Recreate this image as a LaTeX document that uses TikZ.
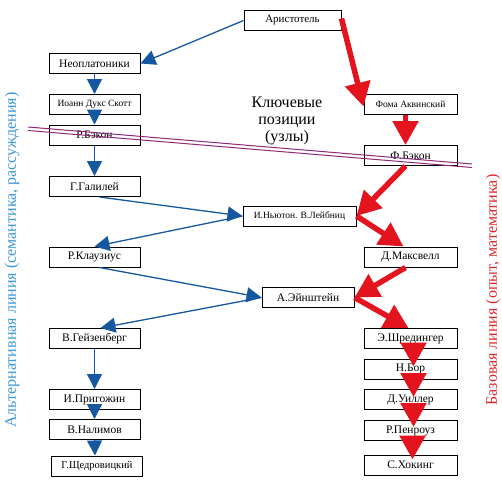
\documentclass[tikz,border=0pt]{standalone}
\usepackage{fontspec}
\setmainfont{Liberation Serif}
\usetikzlibrary{arrows.meta}
\definecolor{bl}{RGB}{22,88,160}
\definecolor{rd}{RGB}{228,20,30}
\definecolor{sideblue}{RGB}{60,150,210}
\definecolor{sidered}{RGB}{220,40,40}
\definecolor{purp}{RGB}{140,40,120}
\begin{document}
\begin{tikzpicture}[x=1pt,y=-1pt,
 box/.style={draw,line width=1pt,minimum height=20pt,inner sep=0pt,font=\rmfamily\fontsize{11.5}{12}\selectfont},
 lbox/.style={box,minimum width=91pt},
 rbox/.style={box,minimum width=93pt},
 small/.style={font=\rmfamily\fontsize{9.5}{10}\selectfont},
 barrow/.style={draw=bl,line width=1.3pt,-{Triangle[length=15pt,width=15pt]}},
 rarrow/.style={draw=rd,line width=5.5pt,-{Triangle[length=24pt,width=25pt]}},
 sidetext/.style={rotate=90,font=\rmfamily\fontsize{16}{18}\selectfont},
]
\useasboundingbox (0,0) rectangle (502,483);

% left column
\node[lbox] (neo) at (94.5,63.5) {Неоплатоники};
\node[lbox,small] (ioann) at (94.5,104.5) {Иоанн Дукс Скотт};
\node[lbox] (rbacon) at (94.5,135) {Р.Бэкон};
\node[lbox] (galilei) at (94.5,186.5) {Г.Галилей};
\node[lbox] (klaus) at (94.5,257) {Р.Клаузиус};
\node[lbox] (heis) at (94.5,338.5) {В.Гейзенберг};
\node[lbox] (prig) at (94.5,399.5) {И.Пригожин};
\node[lbox] (nalim) at (94.5,429.5) {В.Налимов};
\node[lbox,font=\rmfamily\fontsize{10.5}{11}\selectfont] (shched) at (97,466) {Г.Щедровицкий};

% right column
\node[box,minimum width=97pt,font=\rmfamily\fontsize{11}{12}\selectfont] (arist) at (292.5,20.5) {Аристотель};
\node[rbox,small] (foma) at (410.5,104.5) {Фома Аквинский};
\node[rbox] (fbacon) at (410.5,155.5) {Ф.Бэкон};
\node[box,small,minimum width=113pt] (newton) at (299.5,216) {И.Ньютон. В.Лейбниц};
\node[rbox] (maxw) at (410.5,257) {Д.Максвелл};
\node[box,minimum width=92pt] (einst) at (308,297.5) {А.Эйнштейн};
\node[rbox] (schr) at (410.5,338.5) {Э.Шредингер};
\node[rbox] (bohr) at (410.5,369) {Н.Бор};
\node[rbox] (wheeler) at (410.5,399.5) {Д.Уиллер};
\node[rbox] (penrose) at (410.5,430.5) {Р.Пенроуз};
\node[rbox] (hawking) at (410.5,465) {С.Хокинг};

% key positions label
\node[align=center,font=\rmfamily\fontsize{16}{17}\selectfont] (key) at (287,121) {Ключевые\\позиции\\(узлы)};

% side texts
\node[sidetext,text=sideblue] (alt) at (12,260) {Альтернативная линия (семантика, рассуждения)};
\node[sidetext,text=sidered] (base) at (493,290) {Базовая линия (опыт, математика)};

% blue arrows
\draw[barrow] (arist.west) -- (neo.east);
\draw[barrow] (neo.south) -- (ioann.north);
\draw[barrow] (ioann.south) -- (rbacon.north);
\draw[barrow] (rbacon.south) -- (galilei.north);
\draw[barrow] ([xshift=5pt]galilei.south) -- (newton.west);
\draw[barrow] (newton.west) -- (klaus.north);
\draw[barrow] ([xshift=5pt]klaus.south) -- (einst.west);
\draw[barrow] (einst.west) -- ([xshift=6pt]heis.north);
\draw[barrow] (heis.south) -- (prig.north);
\draw[barrow] (prig.south) -- (nalim.north);
\draw[barrow] (nalim.south) -- ([xshift=-2pt]shched.north);

% red arrows
\draw[rarrow] ([yshift=2pt]arist.east) -- ([yshift=-2pt]foma.west);
\draw[rarrow] ([xshift=-5pt]foma.south) -- ([xshift=-5pt]fbacon.north);
\draw[rarrow] ([xshift=-5pt]fbacon.south) -- (newton.east);
\draw[rarrow] (newton.east) -- ([xshift=-7pt]maxw.north);
\draw[rarrow] ([xshift=-5pt]maxw.south) -- (einst.east);
\draw[rarrow] (einst.east) -- ([xshift=-2pt]schr.north);
\draw[rarrow,shorten >=-8pt] ([xshift=3pt]schr.south) -- ([xshift=3pt]bohr.north);
\draw[rarrow,shorten >=-8pt] ([xshift=3pt]bohr.south) -- ([xshift=3pt]wheeler.north);
\draw[rarrow,shorten >=-7pt] ([xshift=3pt]wheeler.south) -- ([xshift=3pt]penrose.north);
\draw[rarrow,shorten >=-5pt] ([xshift=2pt]penrose.south) -- ([xshift=2pt]hawking.north);

% double dividing line
\draw[purp,line width=1pt] (28,127) -- (472,164);
\draw[purp,line width=1pt] (28,130.5) -- (472,167.5);
\end{tikzpicture}
\end{document}
